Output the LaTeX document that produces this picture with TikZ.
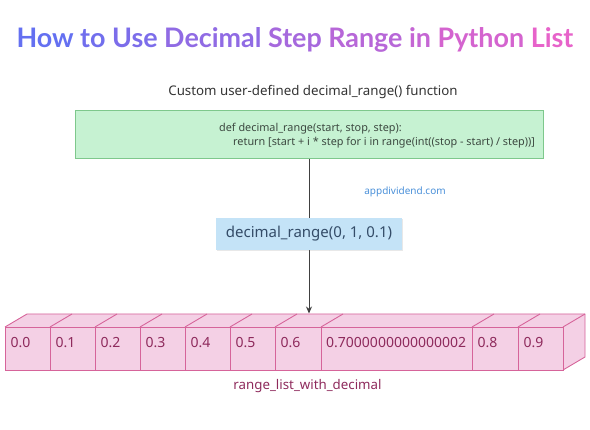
\documentclass[tikz,border=0pt]{standalone}
\usepackage{fontspec}
\setmainfont{Noto Sans}
\newfontfamily\titlefont{Lato}
\usetikzlibrary{arrows.meta,shadows}
\definecolor{tL}{RGB}{96,112,242}
\definecolor{tR}{RGB}{236,98,200}
\definecolor{codefill}{RGB}{198,242,210}
\definecolor{codeline}{RGB}{126,200,140}
\definecolor{codetext}{RGB}{60,72,64}
\definecolor{callfill}{RGB}{196,227,247}
\definecolor{calltext}{RGB}{52,76,104}
\definecolor{listfill}{RGB}{244,208,229}
\definecolor{listline}{RGB}{214,100,154}
\definecolor{listtext}{RGB}{142,42,92}
\definecolor{webblue}{RGB}{74,144,217}
\definecolor{arrowgray}{RGB}{64,64,64}
\tikzset{
  cell/.style={draw=listline, fill=listfill, line width=0.9pt, rectangle,
    minimum height=43pt, anchor=west, inner sep=0pt},
  celltxt/.style={anchor=base west, text=listtext, inner sep=0pt,
    font=\fontsize{14}{16}\selectfont},
  codebox/.style={draw=codeline, fill=codefill, line width=1pt, rectangle,
    minimum width=468pt, minimum height=48pt},
  callbox/.style={fill=callfill, rectangle, minimum width=186pt, minimum height=32pt,
    text=calltext, font=\fontsize{15}{18}\selectfont,
    drop shadow={opacity=0.18, shadow xshift=0.8pt, shadow yshift=-1.5pt}},
  codetxt/.style={anchor=west, text=codetext, inner sep=0pt, font=\fontsize{10.85}{12}\selectfont},
  flow/.style={draw=arrowgray, line width=1pt, -{Stealth[length=7pt,width=6pt]}},
}
\begin{document}
\begin{tikzpicture}[x=1pt,y=-1pt]
\useasboundingbox (0,0) rectangle (590,430);
% title
\node[anchor=base, inner sep=0pt, font=\titlefont\bfseries\fontsize{26.9}{30}\selectfont] (title) at (295,48)
 {\color{tL!97!tR}How \color{tL!88!tR}to \color{tL!80!tR}Use \color{tL!66!tR}Decimal \color{tL!50!tR}Step \color{tL!38!tR}Range \color{tL!28!tR}in \color{tL!17!tR}Python \color{tL!4!tR}List};
% subtitle
\node[text=black!80, font=\fontsize{13.3}{15}\selectfont, inner sep=0pt] (sub) at (313,92) {Custom user-defined decimal\_range() function};
% code box
\node[codebox] (code) at (309,135) {};
\node[codetxt] (c1) at (219,129) {def decimal\_range(start, stop, step):};
\node[codetxt] (c2) at (233,143) {return [start + i * step for i in range(int((stop - start) / step))]};
% list: top and right faces
\fill[listfill] (5,327) -- (27,314) -- (585,314) -- (563,327) -- cycle;
\fill[listfill] (563,327) -- (585,314) -- (585,357) -- (563,370) -- cycle;
\draw[listline, line width=0.9pt, line join=round] (5,327) -- (27,314) -- (585,314) -- (585,357) -- (563,370);
\foreach \x in {50,95,140,185,230,275,321,472,518,563}
  \draw[listline, line width=0.9pt] (\x,327) -- ++(22,-13);
% list cells
\node[cell, minimum width=45pt] (l0) at (5,348.5) {};
\node[cell, minimum width=45pt] (l1) at (50,348.5) {};
\node[cell, minimum width=45pt] (l2) at (95,348.5) {};
\node[cell, minimum width=45pt] (l3) at (140,348.5) {};
\node[cell, minimum width=45pt] (l4) at (185,348.5) {};
\node[cell, minimum width=45pt] (l5) at (230,348.5) {};
\node[cell, minimum width=46pt] (l6) at (275,348.5) {};
\node[cell, minimum width=151pt] (l7) at (321,348.5) {};
\node[cell, minimum width=46pt] (l8) at (472,348.5) {};
\node[cell, minimum width=45pt] (l9) at (518,348.5) {};
\node[celltxt] (t0) at (10.5,347.5) {0.0};
\node[celltxt] (t1) at (55.5,347.5) {0.1};
\node[celltxt] (t2) at (100.5,347.5) {0.2};
\node[celltxt] (t3) at (145.5,347.5) {0.3};
\node[celltxt] (t4) at (190.5,347.5) {0.4};
\node[celltxt] (t5) at (235.5,347.5) {0.5};
\node[celltxt] (t6) at (280.5,347.5) {0.6};
\node[celltxt] (t7) at (326,347.5) {0.7000000000000002};
\node[celltxt] (t8) at (477.5,347.5) {0.8};
\node[celltxt] (t9) at (523.5,347.5) {0.9};
\coordinate (listtop) at (309,313.5);
% connector
\draw[flow] (code.south -| listtop) -- (listtop);
% call box
\node[callbox] (call) at (309,234) {decimal\_range(0, 1, 0.1)};
% watermark
\node[text=webblue, font=\fontsize{10}{12}\selectfont, inner sep=0pt] (web) at (405,192) {appdividend.com};
% list label
\node[text=listtext, font=\fontsize{13.3}{15}\selectfont, inner sep=0pt] (lbl) at (307.5,386) {range\_list\_with\_decimal};
\end{tikzpicture}
\end{document}
